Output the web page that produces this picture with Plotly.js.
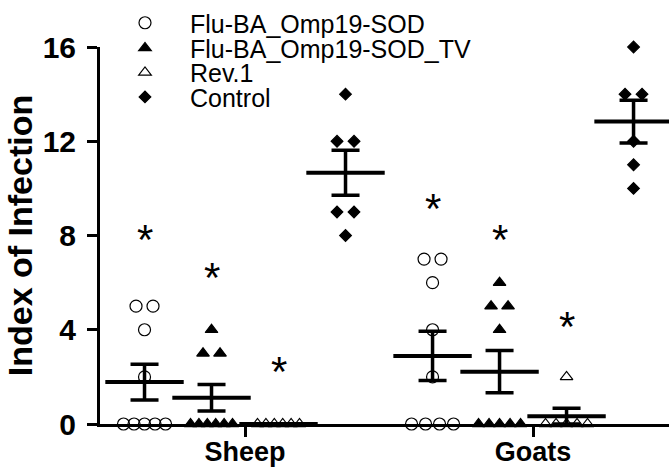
<!DOCTYPE html>
<html><head><meta charset="utf-8">
<script src="https://cdn.plot.ly/plotly-3.0.1.min.js"></script>
<style>html,body{margin:0;padding:0;background:#fff}#chart{width:669px;height:470px}</style>
</head><body><div id="chart"></div>
<script>
// ---- data ----
const categories = ['Sheep', 'Goats'];
const seriesNames = ['Flu-BA_Omp19-SOD', 'Flu-BA_Omp19-SOD_TV', 'Rev.1', 'Control'];
const sheepSOD = [5, 5, 4, 2, 0, 0, 0, 0, 0];
const sheepTV = [4, 3, 3, 0, 0, 0, 0, 0, 0];
const sheepRev1 = [0, 0, 0, 0, 0, 0];
const sheepControl = [14, 12, 12, 9, 9, 8];
const goatsSOD = [7, 7, 6, 4, 2, 0, 0, 0, 0];
const goatsTV = [6, 5, 5, 4, 0, 0, 0, 0, 0];
const goatsRev1 = [2, 0, 0, 0, 0, 0];
const goatsControl = [16, 14, 14, 12, 11, 10];
const sheepAsterisks = [8, 6.4, 2.4];   // above SOD, SOD_TV, Rev.1
const goatsAsterisks = [9.3, 8, 4.3];
const yTicks = [0, 4, 8, 12, 16];

// ---- styling / layout ----
const FONT = '"Liberation Sans", Arial, sans-serif';
const margin = {l: 100, r: 0, t: 40, b: 46};
const plotW = 669 - margin.l - margin.r;
const xRange = [0.4965, 2.472];
const pxPerUnit = plotW / (xRange[1] - xRange[0]);
const groupStep = 67 / pxPerUnit;
const symbols = ['circle-open', 'triangle-up', 'triangle-up-open', 'diamond'];
const sizes = [12, 11, 11, 9];

const groups = [[sheepSOD, goatsSOD], [sheepTV, goatsTV], [sheepRev1, goatsRev1], [sheepControl, goatsControl]];
const asterisks = [sheepAsterisks, goatsAsterisks];

function groupCenter(ci, gi) { return (ci + 1) + (gi - 1.5) * groupStep; }

function spread(values, center) {
  const counts = {}, seen = {};
  values.forEach(v => counts[v] = (counts[v] || 0) + 1);
  return values.map(v => {
    const n = counts[v];
    const i = seen[v] = (seen[v] || 0) + 1;
    const step = Math.min(17, 42 / Math.max(n - 1, 1)) / pxPerUnit;
    return center + ((i - 1) - (n - 1) / 2) * step;
  });
}
function mean(a) { return a.reduce((s, v) => s + v, 0) / a.length; }
function sem(a) {
  const m = mean(a);
  const sd = Math.sqrt(a.reduce((s, v) => s + (v - m) * (v - m), 0) / (a.length - 1));
  return sd / Math.sqrt(a.length);
}

const traces = [];
const legendY = [1.065, 0.997, 0.932, 0.867];
const legendNames = ['legend', 'legend2', 'legend3', 'legend4'];

// mean + SEM bars first (drawn under the points)
groups.forEach((g, gi) => {
  const xs = [], ys = [], es = [];
  g.forEach((vals, ci) => { xs.push(groupCenter(ci, gi)); ys.push(mean(vals)); es.push(sem(vals)); });
  traces.push({
    type: 'scatter', mode: 'markers', x: xs, y: ys, showlegend: false, hoverinfo: 'skip', cliponaxis: false,
    marker: {symbol: 'line-ew', size: 56, color: '#000', line: {color: '#000', width: 4}},
    error_y: {type: 'data', array: es, visible: true, color: '#000', thickness: 3.5, width: 14}
  });
});

groups.forEach((g, gi) => {
  const xs = [], ys = [];
  g.forEach((vals, ci) => {
    spread(vals, groupCenter(ci, gi)).forEach(x => xs.push(x));
    vals.forEach(v => ys.push(v));
  });
  traces.push({
    type: 'scatter', mode: 'markers', name: seriesNames[gi], x: xs, y: ys, cliponaxis: false,
    legend: legendNames[gi],
    marker: {symbol: symbols[gi], size: sizes[gi], color: '#000', line: {color: '#000', width: 1.2}}
  });
});

const annotations = [];
asterisks.forEach((arr, ci) => arr.forEach((y, gi) => {
  annotations.push({x: groupCenter(ci, gi), y: y, xref: 'x', yref: 'y', text: '*', showarrow: false,
    font: {family: FONT, size: 42, color: '#000'}, yanchor: 'middle', yshift: -4});
}));

const layout = {
  width: 669, height: 470, margin: margin,
  paper_bgcolor: '#fff', plot_bgcolor: '#fff',
  font: {family: FONT, color: '#000'},
  showlegend: true,
  xaxis: {
    range: xRange, tickvals: [1, 2], ticktext: categories, showgrid: false, zeroline: false,
    showline: true, linecolor: '#000', linewidth: 3, ticks: 'outside', ticklen: 10, tickwidth: 3, tickcolor: '#000',
    tickfont: {family: FONT, size: 27, color: '#000', weight: 'bold'}, automargin: false, ticklabelstandoff: -8
  },
  yaxis: {
    range: [0, 16], tickvals: yTicks, showgrid: false, zeroline: false,
    showline: true, linecolor: '#000', linewidth: 3, ticks: 'outside', ticklen: 10, tickwidth: 3, tickcolor: '#000',
    tickfont: {family: FONT, size: 30, color: '#000', weight: 'bold'}, automargin: false, ticklabelstandoff: 5,
    title: {text: 'Index of Infection', font: {family: FONT, size: 34, color: '#000', weight: 'bold'}, standoff: 0}
  },
  annotations: annotations
};
legendNames.forEach((ln, i) => {
  layout[ln] = {x: 0, y: legendY[i], xanchor: 'left', yanchor: 'middle', bgcolor: 'rgba(0,0,0,0)',
    font: {family: FONT, size: 25, color: '#000'}, itemwidth: 80, itemsizing: 'trace'};
});

Plotly.newPlot('chart', traces, layout, {displayModeBar: false, staticPlot: true});
</script>
</body></html>
